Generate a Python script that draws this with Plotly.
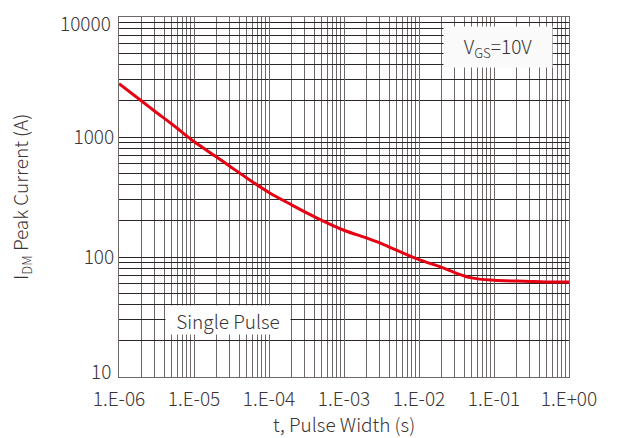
import math
import plotly.graph_objects as go

# Data
pulse_width_s = [1e-6, 2e-6, 3e-6, 5e-6, 1e-5, 2e-5, 3e-5, 5e-5, 1e-4, 2e-4, 3e-4, 5e-4,
                 1e-3, 2e-3, 3e-3, 5e-3, 1e-2, 2e-2, 3e-2, 5e-2, 1e-1, 2e-1, 3e-1, 5e-1, 1.0]
peak_current_a = [2780, 1995, 1640, 1290, 916, 682, 571, 457, 345, 272, 238, 203,
                  167, 144, 131, 114, 95, 82, 74, 67, 64, 63, 62.5, 62, 62]

x_tick_vals = [1e-6, 1e-5, 1e-4, 1e-3, 1e-2, 1e-1, 1.0]
x_tick_text = ["1.E-06", "1.E-05", "1.E-04", "1.E-03", "1.E-02", "1.E-01", "1.E+00"]
y_tick_vals = [10, 100, 1000, 10000]
y_tick_text = ["10", "100", "1000", "10000"]

x_minor = [m * 10.0 ** e for e in range(-6, 0) for m in range(2, 10)]
y_minor = [m * 10.0 ** e for e in range(1, 4) for m in range(2, 10)]

FONT = "Noto Sans CJK SC, Noto Sans, sans-serif"
TXT = "#3a3434"
FS = 19

# inner y tick labels through the axis; the two end labels are nudged inward
# (as in the reference) and drawn as annotations at the same tick values
last = len(y_tick_text) - 1
y_axis_text = [t if 0 < i < last else "" for i, t in enumerate(y_tick_text)]
end_label_shift = {0: 7, last: -5}

fig = go.Figure()
fig.add_trace(go.Scatter(
    x=pulse_width_s, y=peak_current_a, mode="lines",
    line=dict(color="#e60012", width=3, shape="spline", smoothing=1.0),
    hoverinfo="skip", showlegend=False,
))

annotations = [
    dict(x=0.5, y=-0.13, xref="paper", yref="paper",
         text="t, Pulse Width (s)", showarrow=False,
         font=dict(size=FS, color=TXT, family=FONT, weight=300),
         xanchor="center", yanchor="middle"),
    dict(x=-0.218, y=0.5, xref="paper", yref="paper", textangle=-90,
         text="I<sub>DM</sub> Peak Current (A)", showarrow=False,
         font=dict(size=FS, color=TXT, family=FONT, weight=300),
         xanchor="center", yanchor="middle"),
    dict(x=0.842, y=0.917, xref="paper", yref="paper",
         text="V<sub>GS</sub>=10V", showarrow=False,
         font=dict(size=FS, color=TXT, family=FONT, weight=300),
         bgcolor="#fafafa", width=108, height=40, borderpad=0,
         xanchor="center", yanchor="middle"),
    dict(x=0.243, y=0.158, xref="paper", yref="paper",
         text="Single Pulse", showarrow=False,
         font=dict(size=FS, color=TXT, family=FONT, weight=300),
         bgcolor="white", width=124, height=28, borderpad=0,
         xanchor="center", yanchor="middle"),
]
for i, shift in end_label_shift.items():
    annotations.append(dict(
        x=0, xref="paper", y=math.log10(y_tick_vals[i]), yref="y",
        text=y_tick_text[i], showarrow=False, xanchor="right", yanchor="middle",
        xshift=-6, yshift=shift,
        font=dict(size=FS, color=TXT, family=FONT, weight=300)))

fig.update_layout(
    width=621, height=438,
    margin=dict(l=119, r=52, t=17, b=61, autoexpand=False),
    paper_bgcolor="white", plot_bgcolor="white",
    font=dict(family=FONT, size=FS, color=TXT, weight=300),
    xaxis=dict(
        type="log", range=[-6, 0], automargin=False,
        tickmode="array", tickvals=x_tick_vals, ticktext=x_tick_text,
        showgrid=True, gridcolor="#6e6868", gridwidth=1,
        minor=dict(tickvals=x_minor, showgrid=True, gridcolor="#6e6868", gridwidth=1, ticklen=0),
        showline=True, linecolor="#6e6868", linewidth=1, mirror=True,
        ticks="", zeroline=False, ticklabelstandoff=5,
        tickfont=dict(size=FS, color=TXT, family=FONT, weight=300),
    ),
    yaxis=dict(
        type="log", range=[1, 4], automargin=False,
        tickmode="array", tickvals=y_tick_vals, ticktext=y_axis_text,
        showgrid=True, gridcolor="#2b2424", gridwidth=1,
        minor=dict(tickvals=y_minor, showgrid=True, gridcolor="#2b2424", gridwidth=1, ticklen=0),
        showline=True, linecolor="#6e6868", linewidth=1, mirror=True,
        ticks="", zeroline=False,
        tickfont=dict(size=FS, color=TXT, family=FONT, weight=300),
    ),
    annotations=annotations,
)

fig.write_html("out.html", config={"displayModeBar": False},
               post_script="document.body.style.margin='0';")
